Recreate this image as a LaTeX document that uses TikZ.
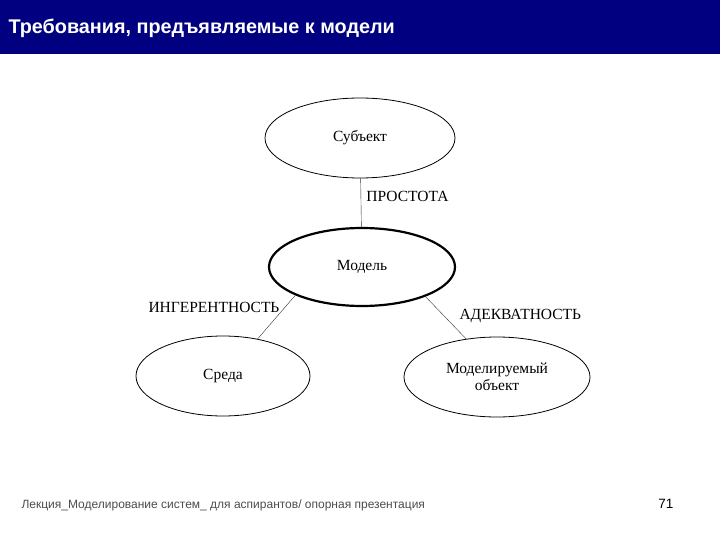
\documentclass[tikz,border=0pt]{standalone}
\usepackage{fontspec}
\setmainfont{Liberation Serif}
\newfontfamily\arialfont{Liberation Sans}
\usetikzlibrary{shapes.geometric,positioning}
\definecolor{bandblue}{RGB}{0,0,128}
\begin{document}
\begin{tikzpicture}[
            x=1pt,y=-1pt,
            every node/.append style={black,font=\fontsize{15.5}{16.5}\selectfont},
            oval/.style={ellipse,draw,thick,minimum width=190pt,minimum height=80pt,align=center},
            link/.style={draw,black!80}
        ]
            \useasboundingbox (0,0) rectangle (720,540);
            \fill[bandblue] (0,0) rectangle (720,54);
            \node[anchor=west,white,font=\arialfont\bfseries\fontsize{19.8}{22}\selectfont] (title) at (5,28) {Требования, предъявляемые к модели};

            \node[oval] (subj) at (360,138) {Субъект};
            \node[oval,line width=2.2pt,minimum width=186pt,minimum height=78pt] (model) at (362,267) {Модель};
            \node[oval,minimum width=174pt] (sreda) at (223,376) {Среда};
            \node[oval,minimum width=186pt] (obj) at (497,377) {Моделируемый\\объект};

            \draw[link] (subj) -- node[right=2pt,pos=0.38]{ПРОСТОТА} (model);
            \draw[link] (model.203) -- (sreda.47);
            \draw[link] (model.335) -- (obj.129);
            \node[anchor=west] (inger) at (145,307) {ИНГЕРЕНТНОСТЬ};
            \node[anchor=west] (adekv) at (456,316) {АДЕКВАТНОСТЬ};

            \node[anchor=west,black!70,font=\arialfont\fontsize{12}{14}\selectfont] (foot) at (18,505) {Лекция\_Моделирование систем\_ для аспирантов/ опорная презентация};
            \node[anchor=east,font=\arialfont\fontsize{13.5}{15}\selectfont] (page) at (677,504) {71};
        \end{tikzpicture}
\end{document}
